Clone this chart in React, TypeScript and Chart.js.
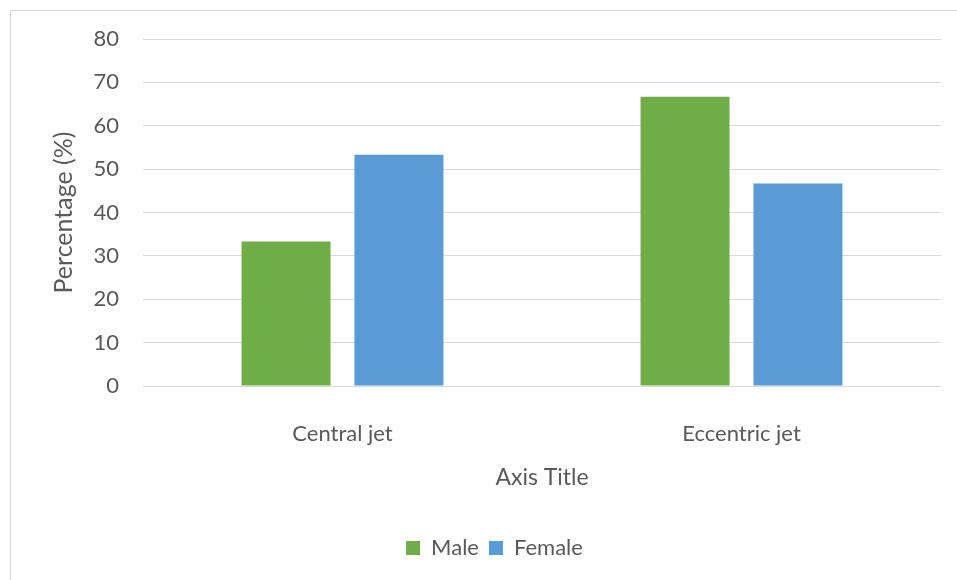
import React, { useEffect, useRef } from "react";
import { Chart, registerables } from "chart.js";

Chart.register(...registerables);

// Categories and series values (percent)
const categories = ["Central jet", "Eccentric jet"];
const maleValues = [33.3, 66.7];
const femaleValues = [53.3, 46.7];
const seriesNames = ["Male", "Female"];

const yTitle = "Percentage (%)";
const xTitle = "Axis Title";

const TEXT = "#595959";
const GRID = "#d9d9d9";
const FONT = "Lato, 'Open Sans', sans-serif";

// White background and thin frame around the whole chart; also nudges the legend
// so it sits a little right of the canvas centre.
const framePlugin = {
  id: "frame",
  afterLayout(chart: any) {
    if (chart.legend) {
      chart.legend.left += 48;
    }
  },
  beforeDraw(chart: Chart) {
    const ctx = chart.ctx;
    ctx.save();
    ctx.fillStyle = "#ffffff";
    ctx.fillRect(0, 0, chart.width, chart.height);
    ctx.strokeStyle = GRID;
    ctx.lineWidth = 1;
    ctx.strokeRect(10.5, 10.5, chart.width + 20, chart.height + 20);
    ctx.restore();
  },
};

export default function App() {
  const ref = useRef<HTMLCanvasElement | null>(null);

  useEffect(() => {
    if (!ref.current) return;
    const chart = new Chart(ref.current, {
      type: "bar",
      data: {
        labels: categories,
        datasets: [
          {
            label: seriesNames[0],
            data: maleValues,
            backgroundColor: "#70ad47",
            categoryPercentage: 0.566,
            barPercentage: 0.788,
          },
          {
            label: seriesNames[1],
            data: femaleValues,
            backgroundColor: "#5b9bd5",
            categoryPercentage: 0.566,
            barPercentage: 0.788,
          },
        ],
      },
      options: {
        responsive: false,
        animation: false,
        layout: { padding: { left: 0, right: 16, top: 39, bottom: 11 } },
        plugins: {
          legend: {
            position: "bottom",
            labels: {
              boxWidth: 14,
              boxHeight: 14,
              padding: 10,
              color: TEXT,
              font: { family: FONT, size: 22 },
            },
          },
          tooltip: { enabled: false },
        },
        scales: {
          x: {
            grid: { display: false },
            border: { display: false },
            ticks: {
              color: TEXT,
              padding: 27,
              font: { family: FONT, size: 22 },
            },
            title: {
              display: true,
              text: xTitle,
              color: TEXT,
              padding: { top: 0, bottom: 36 },
              font: { family: FONT, size: 23 },
            },
            afterFit(scale: any) {
              scale.height = 141;
            },
          },
          y: {
            min: 0,
            max: 80,
            grid: { color: GRID, lineWidth: 1, drawTicks: false },
            border: { display: false },
            ticks: {
              stepSize: 10,
              color: TEXT,
              padding: 24,
              font: { family: FONT, size: 22 },
            },
            title: {
              display: true,
              text: yTitle,
              color: TEXT,
              padding: { top: 49, bottom: 0 },
              font: { family: FONT, size: 25 },
            },
            afterFit(scale: any) {
              scale.width = 143;
            },
          },
        },
      },
      plugins: [framePlugin],
    });
    return () => chart.destroy();
  }, []);

  return (
    <div
      style={{
        position: "fixed",
        left: 0,
        top: 0,
        width: 957,
        height: 580,
        background: "#ffffff",
        overflow: "hidden",
      }}
    >
      <canvas ref={ref} width={957} height={580} />
    </div>
  );
}
